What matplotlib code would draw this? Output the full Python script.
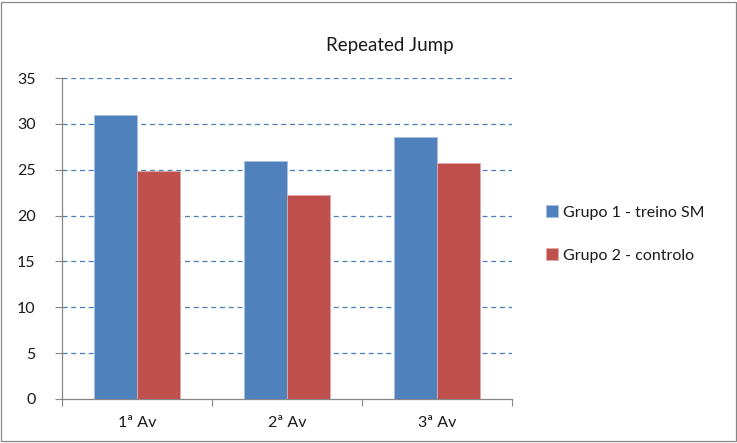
import numpy as np
import matplotlib
matplotlib.use("Agg")
import matplotlib.pyplot as plt
from matplotlib.patches import Rectangle

# ── Data ───────────────────────────────────────────────────────────────────
categories = ["1ª Av", "2ª Av", "3ª Av"]
grupo1     = [31.0, 25.9, 28.6]
grupo2     = [24.9, 22.2, 25.7]
labels     = ["Grupo 1 - treino SM", "Grupo 2 - controlo"]
yticks     = [0, 5, 10, 15, 20, 25, 30, 35]

BLUE = "#4F81BD"
RED  = "#C0504D"

plt.rcParams["font.family"] = ["Lato", "DejaVu Sans"]
plt.rcParams["text.color"] = "#1a1a1a"

fig = plt.figure(figsize=(7.37, 4.43), dpi=100)
ax = fig.add_axes([62 / 737, 1 - 399 / 443, 450 / 737, 321 / 443])

x = np.arange(len(categories))
w = 0.287
ax.bar(x - w / 2, grupo1, w, color=BLUE, edgecolor="#a9c0e0", linewidth=0.6,
       label=labels[0], zorder=3)
ax.bar(x + w / 2, grupo2, w, color=RED, edgecolor="#e0a9a8", linewidth=0.6,
       label=labels[1], zorder=3)

ax.set_xlim(-0.5, len(categories) - 0.5)
ax.set_ylim(0, 35)
ax.set_yticks(yticks)
ax.set_yticklabels([str(v) for v in yticks], fontsize=11.5, color="#1a1a1a")

# category labels between boundary ticks
ax.set_xticks(np.arange(len(categories) + 1) - 0.5)
ax.set_xticklabels([])
ax.set_xticks(x, minor=True)
ax.set_xticklabels(categories, minor=True, fontsize=11.5, color="#1a1a1a")
ax.tick_params(axis="x", which="minor", length=0, pad=12)
ax.tick_params(axis="x", which="major", length=5, color="#868686", direction="out")
ax.tick_params(axis="y", length=5, color="#868686", direction="out", pad=14)

for v in yticks[1:]:
    ax.axhline(v, color="#4A7EBB", linestyle=(0, (4, 3)), linewidth=0.9, zorder=1)

for side in ("top", "right"):
    ax.spines[side].set_visible(False)
for side in ("left", "bottom"):
    ax.spines[side].set_color("#868686")
    ax.spines[side].set_linewidth(0.9)

fig.text(390 / 737, 1 - 46 / 443, "Repeated Jump", ha="center", va="center",
         fontsize=13.5)

ax.legend(loc="center left", bbox_to_anchor=((546 - 62) / 450, 0.514), frameon=False,
          fontsize=11.5, handlelength=0.75, handleheight=0.75, handletextpad=0.3,
          labelspacing=1.8, borderaxespad=0, borderpad=0)

# chart area border
fig.patches.append(Rectangle((0.002, 0.004), 0.996, 0.992, transform=fig.transFigure,
                             fill=False, edgecolor="#868686", linewidth=0.9))

fig.savefig("out.png", dpi=100)
